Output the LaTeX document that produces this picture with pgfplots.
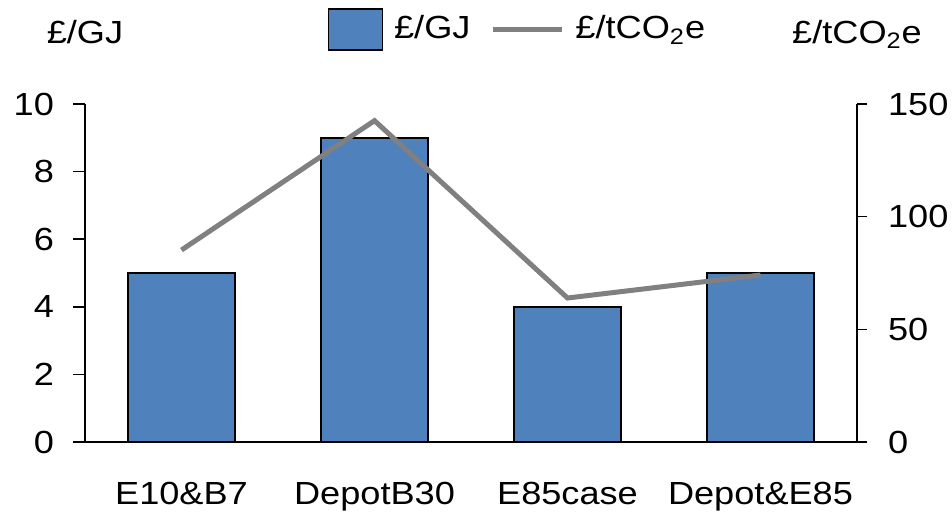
\documentclass[border=0pt]{standalone}
\usepackage{pgfplots}
\pgfplotsset{compat=1.18}
\usepackage{fontspec}
\setmainfont{Liberation Sans}[FakeStretch=1.13]
\definecolor{barblue}{HTML}{4F81BD}
\definecolor{linegray}{HTML}{808080}
\pgfplotsset{
  boxlegend/.style={legend image code/.code={\draw[##1] (0pt,-10.25pt) rectangle (27pt,10.25pt);}},
  linelegend/.style={legend image code/.code={\draw[##1] (0pt,0pt) -- (34.5pt,0pt);}},
}
\begin{document}
\fontsize{16}{19}\selectfont
\begin{tikzpicture}[font=\fontsize{16}{19}\selectfont]
\useasboundingbox (-42.5pt,-38pt) rectangle (433.5pt,221pt);
\begin{axis}[
  at={(0,0)}, anchor=south west,
  width=386pt, height=169pt, scale only axis,
  xmin=-0.5, xmax=3.5, ymin=0, ymax=10,
  axis x line*=bottom, axis y line*=left,
  xtick={0,1,2,3},
  xticklabels={E10\&B7,DepotB30,E85case,Depot\&E85},
  x tick style={draw=none},
  xticklabel style={yshift=-8.5pt},
  ytick={0,2,...,10},
  tick align=outside, major tick length=6pt,
  axis line style={line width=0.75pt,-},
  tick style={line width=0.75pt,black},
  /pgf/number format/assume math mode=true,
  yticklabel style={xshift=-4pt},
  ylabel={£/GJ},
  every axis y label/.style={at={(rel axis cs:0,1.18)},anchor=base},
  legend columns=-1,
  legend style={draw=none, fill=none, at={(rel axis cs:0.306,1.22)}, anchor=west,
    nodes={inner sep=0pt},
    /tikz/every odd column/.append style={column sep=5.5pt},
    /tikz/every even column/.append style={column sep=10pt}},
]
\addplot[ybar, bar width=53.5pt, fill=barblue, draw=black, line width=0.75pt, boxlegend]
  coordinates {(0,5) (1,9) (2,4) (3,5)};
\addlegendentry{£/GJ}
\addlegendimage{linegray, line width=2.5pt, linelegend}
\addlegendentry{£/tCO\textsubscript{2}e}
\end{axis}
\begin{axis}[
  at={(0,0)}, anchor=south west,
  width=386pt, height=169pt, scale only axis,
  xmin=-0.5, xmax=3.5, ymin=0, ymax=150,
  axis y line*=right, axis x line=none,
  ytick={0,50,100,150},
  tick align=outside, major tick length=5pt,
  axis line style={line width=0.75pt,-},
  tick style={line width=0.75pt,black},
  /pgf/number format/assume math mode=true,
  yticklabel style={xshift=5pt},
  ylabel={£/tCO\textsubscript{2}e},
  every axis y label/.style={at={(rel axis cs:1,1.18)},anchor=base},
]
\addplot[linegray, line width=2.5pt] coordinates {(0,85.2) (1,142.6) (2,63.9) (3,74.1)};
\end{axis}
\end{tikzpicture}
\end{document}
